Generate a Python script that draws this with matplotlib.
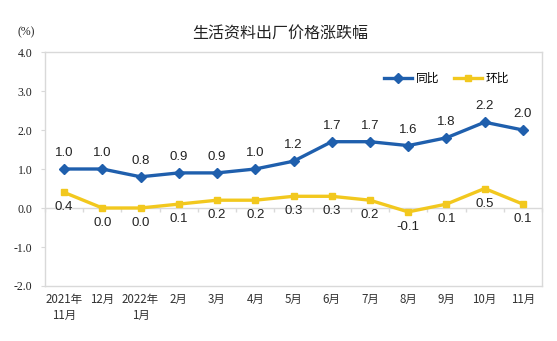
#!/usr/bin/env python3

import numpy as np
import matplotlib
matplotlib.use('Agg')
from matplotlib import pyplot as plt

plt.rcParams['font.family'] = ['Liberation Sans', 'Noto Sans CJK SC', 'DejaVu Sans']

months = ['2021年\n11月', '12月', '2022年\n1月', '2月', '3月', '4月', '5月',
          '6月', '7月', '8月', '9月', '10月', '11月']
yoy = [1.0, 1.0, 0.8, 0.9, 0.9, 1.0, 1.2, 1.7, 1.7, 1.6, 1.8, 2.2, 2.0]
mom = [0.4, 0.0, 0.0, 0.1, 0.2, 0.2, 0.3, 0.3, 0.2, -0.1, 0.1, 0.5, 0.1]
yticks = [-2.0, -1.0, 0.0, 1.0, 2.0, 3.0, 4.0]

blue = '#1F5FAD'
yellow = '#F2C81E'
grey = '#D9D9D9'
tickfont = ['Liberation Serif', 'Noto Sans CJK SC']

fig = plt.figure(figsize=(5.57, 3.41), dpi=100)
ax = fig.add_axes([45/557, 55/341, 497/557, 234/341])

x = np.arange(len(months))
ax.plot(x, yoy, '-', color=blue, lw=2.4, marker='D', ms=5, label='同比', zorder=3)
ax.plot(x, mom, '-', color=yellow, lw=2.4, marker='s', ms=5, label='环比', zorder=3)

for xi, v in zip(x, yoy):
    ax.annotate('%.1f' % v, (xi, v), xytext=(0, 7), textcoords='offset points',
                ha='center', va='bottom', fontsize=9.5, color='#222222')
for xi, v in zip(x, mom):
    ax.annotate('%.1f' % v, (xi, v), xytext=(0, -6.5), textcoords='offset points',
                ha='center', va='top', fontsize=9.5, color='#222222')

# zero line with category boundary ticks
ax.axhline(0, color=grey, lw=1, zorder=1)
bounds = np.arange(len(months) + 1) - 0.5
ax.plot(bounds, np.zeros(len(bounds)), ls='none', marker=3, ms=3, color=grey,
        mew=1, zorder=1, clip_on=False)

ax.set_xlim(-0.5, len(months) - 0.5)
ax.set_ylim(yticks[0], yticks[-1])
ax.set_yticks(yticks)
ax.set_yticklabels(['%.1f' % t for t in yticks], family=tickfont, fontsize=8.5,
                   color='#222222')
ax.set_xticks(x)
ax.set_xticklabels(months, family=['Noto Sans CJK SC'], fontsize=8.3,
                   color='#333333', linespacing=1.25)
ax.tick_params(axis='x', length=0, pad=5)
ax.tick_params(axis='y', length=3, color=grey, pad=6)

for s in ax.spines.values():
    s.set_color(grey)
    s.set_linewidth(1)

ax.legend(loc='upper right', bbox_to_anchor=(0.955, 0.96), ncol=2, frameon=False,
          handlelength=2.4, columnspacing=1.2, handletextpad=0.3,
          prop={'family': ['Noto Sans CJK SC'], 'size': 8.5})

fig.text(280/557, 1 - 33/341, '生活资料出厂价格涨跌幅', ha='center', va='center',
         fontsize=11.5, family=['Noto Sans CJK SC'], color='#222222')
fig.text(26/557, 1 - 32/341, '(%)', ha='center', va='center', fontsize=8.5,
         family=tickfont, color='#222222')

fig.savefig('out.png', dpi=100)
